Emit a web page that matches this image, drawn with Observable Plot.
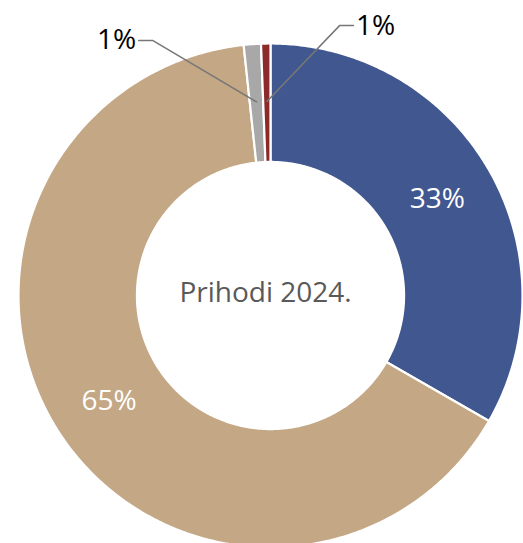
<!DOCTYPE html>
<html>
<head>
<meta charset="utf-8">
<script src="https://cdn.jsdelivr.net/npm/d3@7"></script>
<script src="https://cdn.jsdelivr.net/npm/@observablehq/plot@0.6"></script>
<style>
  html, body { margin: 0; padding: 0; background: #fff; overflow: hidden; }
  svg { overflow: hidden; }
</style>
</head>
<body>
<div id="chart"></div>
<script>
// Data (clockwise from 12 o'clock)
const categories = ["Kategorija A", "Kategorija B", "Kategorija C", "Kategorija D"];
const shares = [33.3, 65.0, 1.1, 0.6];
const palette = ["#41578f", "#c4a785", "#a8a8a8", "#8c2a2a"];
const centerTitle = "Prihodi 2024.";

const W = 523, H = 543;
const cx = 270, cy = 295, R = 252;
const innerFrac = 0.53;
const midFrac = (1 + innerFrac) / 2;
const FS = 28;

const arcs = d3.pie().sort(null).value(d => d)(shares);

// polygon points for each slice
const polys = [];
arcs.forEach((a, i) => {
  const n = Math.max(4, Math.ceil((a.endAngle - a.startAngle) / 0.01));
  for (let k = 0; k <= n; k++) {
    const t = a.startAngle + (a.endAngle - a.startAngle) * k / n;
    polys.push({cat: categories[i], x: Math.sin(t), y: -Math.cos(t)});
  }
  for (let k = n; k >= 0; k--) {
    const t = a.startAngle + (a.endAngle - a.startAngle) * k / n;
    polys.push({cat: categories[i], x: innerFrac * Math.sin(t), y: -innerFrac * Math.cos(t)});
  }
});

const midA = a => (a.startAngle + a.endAngle) / 2;
const pct = v => Math.round(v) + "%";

// inside labels for big slices
const inLabels = arcs.filter(a => a.value >= 5).map(a => ({
  x: midFrac * Math.sin(midA(a)), y: -midFrac * Math.cos(midA(a)), text: pct(a.value)
}));

// outside labels with leader lines for small slices
const small = arcs.filter(a => a.value < 5);
const elbows = [[-0.468, -1.012, -1], [0.274, -1.071, 1]]; // layout placement: gray left, red right
const leaders = [];
const outLabels = [];
small.forEach((a, j) => {
  const m = midA(a);
  const r0 = 0.77;
  const [ex, ey, side] = elbows[j];
  const p0 = {id: j, x: r0 * Math.sin(m), y: -r0 * Math.cos(m)};
  const p1 = {id: j, x: ex, y: ey};
  const p2 = {id: j, x: ex + side * 0.055, y: ey};
  leaders.push(p0, p1, p2);
  outLabels.push({x: ex + side * 0.065, y: ey, text: pct(a.value), anchor: side < 0 ? "end" : "start"});
});

const chart = Plot.plot({
  width: W, height: H,
  margin: 0,
  style: {fontFamily: "'Open Sans', 'Noto Sans', sans-serif", background: "#fff"},
  x: {domain: [-1, 1], range: [cx - R, cx + R], axis: null},
  y: {domain: [-1, 1], range: [cy - R, cy + R], axis: null},
  color: {domain: categories, range: palette},
  marks: [
    Plot.line(polys, {x: "x", y: "y", z: "cat", fill: "cat", stroke: "white", strokeWidth: 2.2, curve: "linear-closed"}),
    Plot.text(inLabels, {x: "x", y: "y", text: "text", fill: "white", fontSize: FS}),
    Plot.line(leaders, {x: "x", y: "y", z: "id", stroke: "#777777", strokeWidth: 1.5}),
    Plot.text(outLabels.filter(d => d.anchor === "end"), {x: "x", y: "y", text: "text", fill: "#000", fontSize: FS, textAnchor: "end"}),
    Plot.text(outLabels.filter(d => d.anchor === "start"), {x: "x", y: "y", text: "text", fill: "#000", fontSize: FS, textAnchor: "start"}),
    Plot.text([centerTitle], {x: [0], y: [0], text: d => d, fill: "#595959", fontSize: FS, dx: -5, dy: -2})
  ]
});
document.getElementById("chart").appendChild(chart);
</script>
</body>
</html>
